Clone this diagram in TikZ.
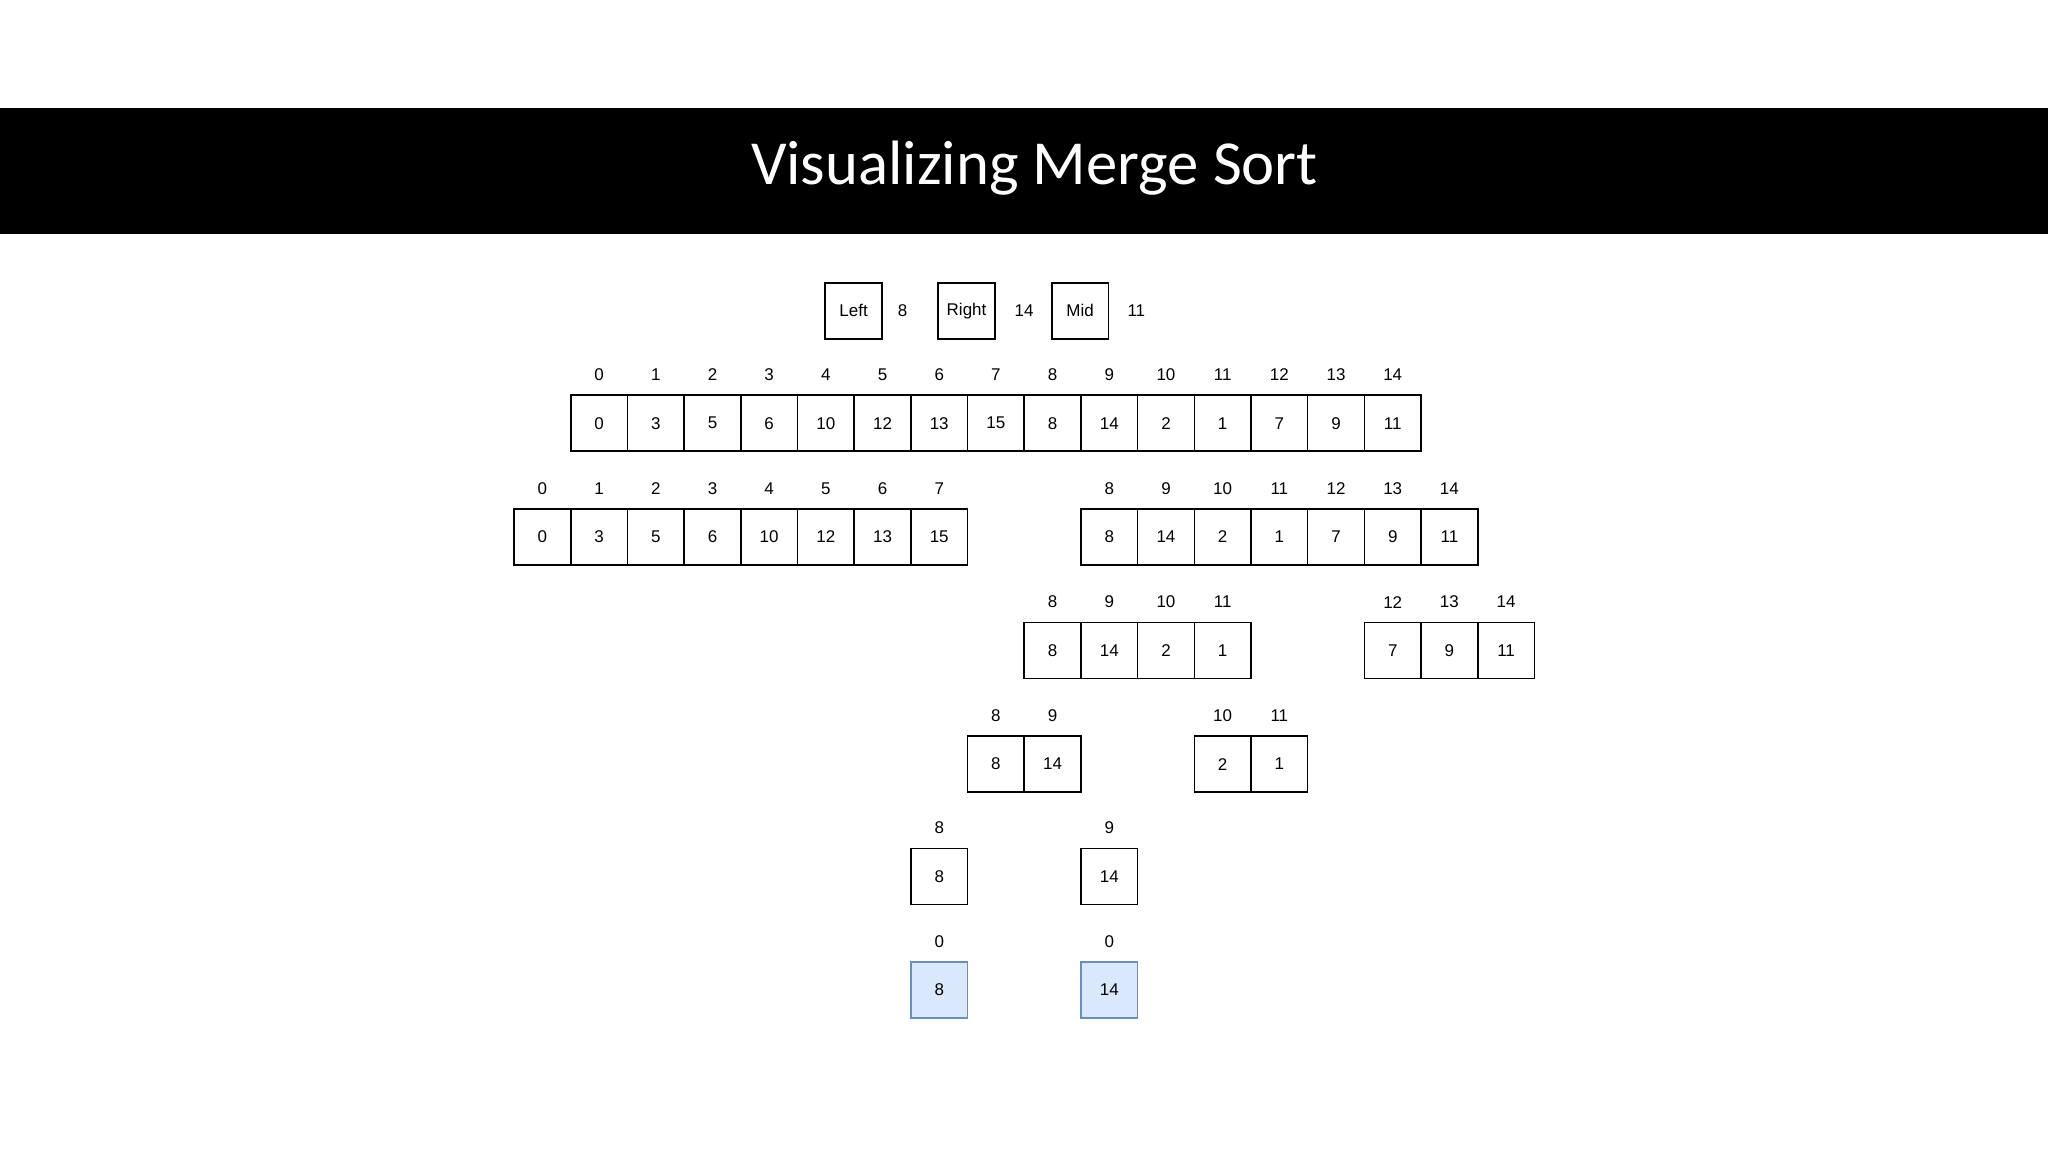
\documentclass[tikz,border=0pt]{standalone}
\usepackage{fontspec}
\setmainfont{Liberation Sans}
\newfontfamily\titlefont{Carlito}
\definecolor{cellblue}{HTML}{DAE8FC}
\definecolor{cellblueb}{HTML}{6C8EBF}
\tikzset{
  cell/.style={draw=black,line width=0.6pt,minimum width=21.7pt,minimum height=21.5pt,inner sep=0pt,font=\fontsize{6.5}{7}\selectfont},
  bluecell/.style={cell,fill=cellblue,draw=cellblueb},
  idx/.style={font=\fontsize{6.5}{7}\selectfont,inner sep=0pt},
}
\newcommand\myrow[6]{% #1 name, #2 start col, #3 start index, #4 y, #5 values, #6 style
  \foreach \v [count=\k from 0] in {#5} {
    \pgfmathtruncatemacro\ii{#3+\k}
    \node[#6] (#1c\k) at ({437+21.7+43.4*(#2+\k)},#4) {\v};
    \node[idx] (#1i\k) at ({437+21.7+43.4*(#2+\k)},#4-37) {\ii};
  }}
\begin{document}
\begin{tikzpicture}[x=0.5pt,y=-0.5pt]
\useasboundingbox (0,0) rectangle (1568,882);
\fill[black] (0,83) rectangle (1568,179);
\node[text=white,font=\titlefont\fontsize{24}{28}\selectfont] (title) at (792,129) {Visualizing Merge Sort};
\node[cell] (left) at (653.5,238) {Left};
\node[idx] (lv) at (691,238) {8};
\node[cell] (right) at (740,238) {Right};
\node[idx] (rv) at (784,238) {14};
\node[cell] (mid) at (827,238) {Mid};
\node[idx] (mv) at (870,238) {11};
\myrow{a}{0}{0}{324}{0,3,5,6,10,12,13,15,8,14,2,1,7,9,11}{cell}
\myrow{b}{-1}{0}{411}{0,3,5,6,10,12,13,15}{cell}
\myrow{c}{9}{8}{411}{8,14,2,1,7,9,11}{cell}
\myrow{d}{8}{8}{498}{8,14,2,1}{cell}
\myrow{e}{14}{12}{498}{7,9,11}{cell}
\myrow{f}{7}{8}{585}{8,14}{cell}
\myrow{g}{11}{10}{585}{2,1}{cell}
\myrow{h}{6}{8}{671}{8}{cell}
\myrow{k}{9}{9}{671}{14}{cell}
\myrow{m}{6}{0}{758}{8}{bluecell}
\myrow{n}{9}{0}{758}{14}{bluecell}
\end{tikzpicture}
\end{document}
